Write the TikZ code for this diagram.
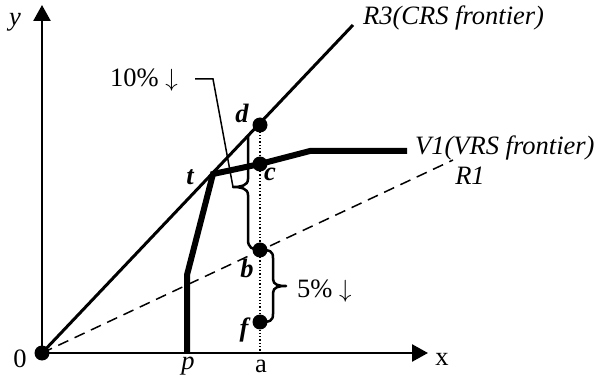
\documentclass[tikz,border=0pt]{standalone}
\usepackage{fontspec}
\setmainfont{Liberation Serif}
\usetikzlibrary{arrows.meta}
\begin{document}
\begin{tikzpicture}[x=1pt,y=-1pt,
  dot/.style={circle,fill=black,inner sep=0pt,minimum size=15pt},
  lab/.style={font=\fontsize{26.5}{30}\selectfont,inner sep=0pt},
  ilab/.style={font=\fontsize{26.5}{30}\selectfont\itshape,inner sep=0pt},
  blab/.style={font=\fontsize{26.5}{30}\selectfont\bfseries\itshape,inner sep=0pt},
  axis/.style={line width=2.5pt,-{Triangle[length=16pt,width=17pt]}},
  crs/.style={line width=3pt},
  vrs/.style={line width=6pt},
  ray/.style={line width=1.5pt,dash pattern=on 11pt off 7pt},
  guide/.style={line width=1.3pt,dotted},
  bracepath/.style={line width=2.5pt,line join=round},
  leader/.style={line width=1.5pt}]
\useasboundingbox (0,0) rectangle (598,377);
% coordinates
\coordinate (Ytip) at (42,5);
\coordinate (Xtip) at (428,353);
\coordinate (P) at (187,353);
\coordinate (K) at (187,275);
\coordinate (E) at (310,151);
\coordinate (V) at (407,151);
\coordinate (A) at (260,353);
\coordinate (R3end) at (353,25);
\coordinate (R1end) at (453,160);
\coordinate (L1) at (195,79);
\coordinate (L2) at (213,79);
\coordinate (Tip10) at (233,187);
% points
\coordinate (O) at (42,353);
\coordinate (T) at (213,174);
\coordinate (C) at (260,164);
\coordinate (D) at (260,125);
\coordinate (B) at (260,250);
\coordinate (F) at (260,322);
% lines
\draw[crs] (O) -- (R3end);
\draw[ray] (O) -- (R1end);
\draw[guide] (D) -- (A);
\draw[axis] (O) -- (Ytip);
\draw[axis] (O) -- (Xtip);
\draw[vrs] (P) -- (K) -- (T) -- (C) -- (E) -- (V);
% braces
\draw[bracepath] (248,136) -- (248,179) .. controls (248,186) and (240,187) .. (Tip10)
  .. controls (240,187) and (248,188) .. (248,195) -- (248,240) .. controls (248,247) and (252,250) .. (B);
\draw[bracepath] (B) .. controls (270,250) and (273,251) .. (273,258) -- (273,279)
  .. controls (273,285) and (279,286) .. (286,286) .. controls (279,286) and (273,287) .. (273,293)
  -- (273,314) .. controls (273,321) and (270,322) .. (F);
\draw[leader] (L1) -- (L2) -- (Tip10);
% dots
\node[dot] (nO) at (O) {};
\node[dot] (nD) at (D) {};
\node[dot] (nC) at (C) {};
\node[dot] (nB) at (B) {};
\node[dot] (nF) at (F) {};
% labels
\node[ilab] (ly) at (15,22) {y};
\node[lab] (l0) at (20,359) {0};
\node[lab] (lx) at (442,359) {x};
\node[ilab] (lp) at (188,366) {p};
\node[lab] (la) at (261,366) {a};
\node[blab] (ld) at (242,113) {d};
\node[blab] (lt) at (190,177) {t};
\node[blab] (lc) at (270,174) {c};
\node[blab] (lb) at (247,268) {b};
\node[blab] (lf) at (244,330) {f};
\node[ilab,anchor=west] (lr3) at (363,18) {R3(CRS frontier)};
\node[ilab,anchor=west] (lv1) at (415,148) {V1(VRS frontier)};
\node[ilab] (lr1) at (470,176) {R1};
\node[lab,anchor=west] (l10) at (110,80) {10\% $\downarrow$};
\node[lab,anchor=west] (l5) at (297,291) {5\% $\downarrow$};
\end{tikzpicture}
\end{document}
